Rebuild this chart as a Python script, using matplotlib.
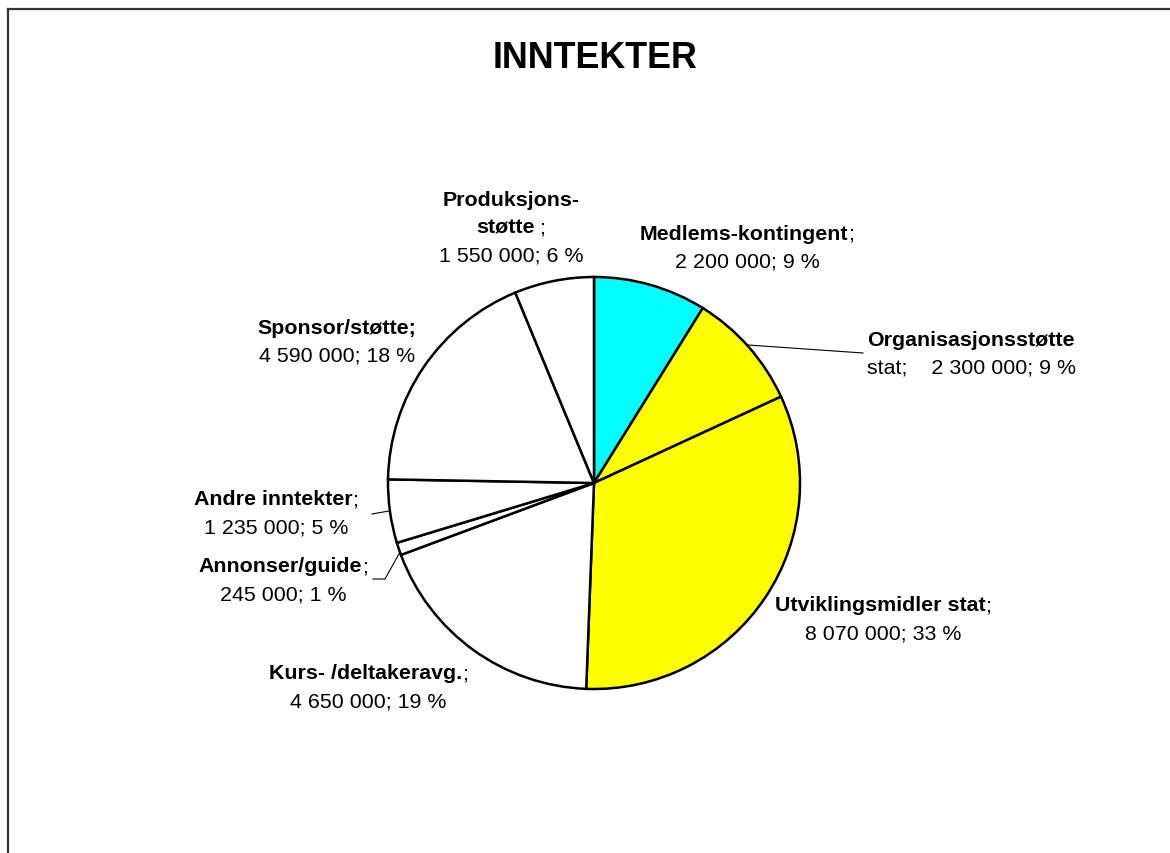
import matplotlib
matplotlib.use("Agg")
import matplotlib.pyplot as plt
from matplotlib.lines import Line2D
from matplotlib.offsetbox import TextArea, HPacker, AnnotationBbox

plt.rcParams['font.family'] = ['Liberation Sans', 'DejaVu Sans']

# data (clockwise from 12 o'clock)
categories = ['Medlems-kontingent', 'Organisasjonsstøtte stat', 'Utviklingsmidler stat',
              'Kurs- /deltakeravg.', 'Annonser/guide', 'Andre inntekter',
              'Sponsor/støtte', 'Produksjonsstøtte']
values = [2200000, 2300000, 8070000, 4650000, 245000, 1235000, 4590000, 1550000]
percents = [9, 9, 33, 19, 1, 5, 18, 6]
colors = ['#00FFFF', '#FFFF00', '#FFFF00', 'white', 'white', 'white', 'white', 'white']

W, H = 1170, 854
fig = plt.figure(figsize=(W / 100, H / 100), dpi=100)
ax = fig.add_axes([0, 0, 1, 1])

cx, cy, r = 594, H - 484, 206
ax.pie(values, colors=colors, startangle=90, counterclock=False,
       center=(cx, cy), radius=r, frame=True,
       wedgeprops=dict(edgecolor='black', linewidth=1.8))
ax.set_xlim(0, W)
ax.set_ylim(0, H)
ax.set_aspect('equal')
ax.axis('off')


def fmt(v):
    return f"{v:,}".replace(',', ' ')


vals = [f"{fmt(v)}; {p} %" for v, p in zip(values, percents)]

# each label: list of lines, each line a list of (text, weight)
labels = [
    [[('Medlems-kontingent', 'bold'), (';', 'normal')], [(vals[0], 'normal')]],
    [[('Organisasjonsstøtte', 'bold')], [('stat;    ' + vals[1], 'normal')]],
    [[('Utviklingsmidler stat', 'bold'), (';', 'normal')], [(vals[2], 'normal')]],
    [[('Kurs- /deltakeravg.', 'bold'), (';', 'normal')], [(vals[3], 'normal')]],
    [[('Annonser/guide', 'bold'), (';', 'normal')], [(vals[4], 'normal')]],
    [[('Andre inntekter', 'bold'), (';', 'normal')], [(vals[5], 'normal')]],
    [[('Sponsor/støtte;', 'bold')], [(vals[6], 'normal')]],
    [[('Produksjons-', 'bold')], [('støtte', 'bold'), (' ;', 'normal')], [(vals[7], 'normal')]],
]
# label centre (x, y of first line) in pixels from top-left
label_pos = [(747, 234), (971, 340), (883, 606), (368, 674),
             (283, 567), (276, 500), (337, 328), (511, 200)]
line_step = 28

for segs_lines, (lx, ly) in zip(labels, label_pos):
    for i, segs in enumerate(segs_lines):
        boxes = [TextArea(t, textprops=dict(fontsize=15.4, fontweight=w, color='black'))
                 for t, w in segs]
        row = HPacker(children=boxes, align='baseline', pad=0, sep=0)
        ab = AnnotationBbox(row, (lx, H - (ly + i * line_step)), frameon=False,
                            box_alignment=(0.5, 0.5), pad=0)
        ax.add_artist(ab)

# leader lines
leaders = [
    ([748, 863], [346, 354]),
    ([389, 372], [512, 515]),
    ([400, 385, 373], [553, 580, 580]),
]
for xs, ys in leaders:
    ax.plot(xs, [H - y for y in ys], color='black', lw=0.8)

ax.text(595, H - 58, 'INNTEKTER', ha='center', va='center',
        fontsize=25.8, fontweight='bold')

# outer frame (left and top edges visible)
fig.add_artist(Line2D([8 / W, 8 / W], [0, 1 - 10 / H], color='#333333', lw=1.6))
fig.add_artist(Line2D([8 / W, 1], [1 - 10 / H, 1 - 10 / H], color='#333333', lw=1.6))

fig.savefig('out.png', dpi=100)
